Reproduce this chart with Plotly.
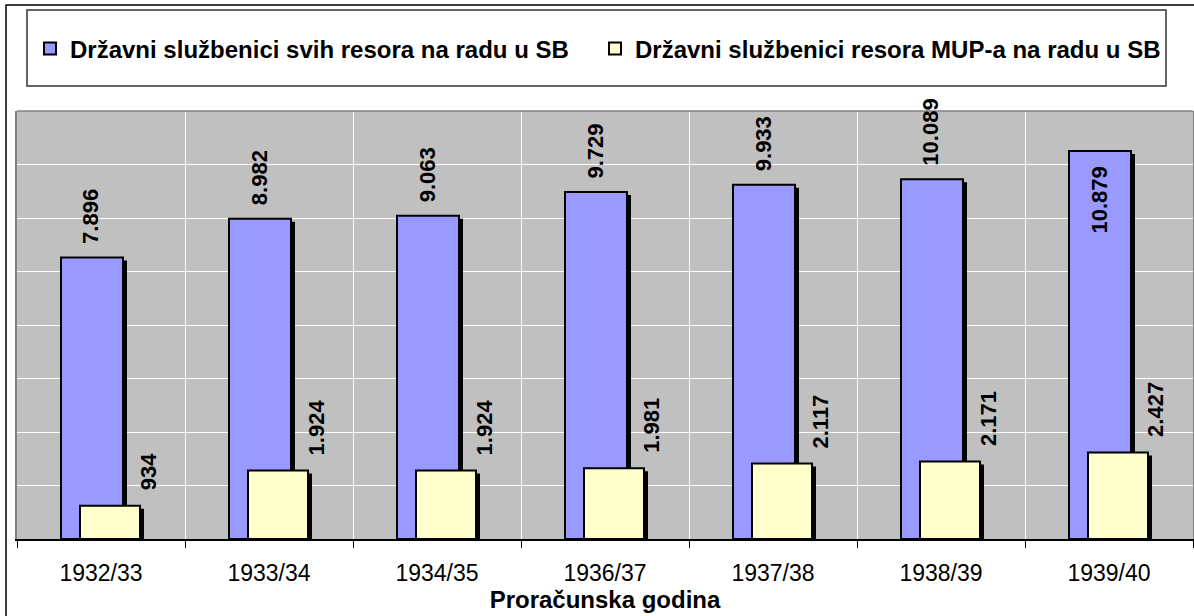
import plotly.graph_objects as go

CATEGORIES = ['1932/33', '1933/34', '1934/35', '1936/37', '1937/38', '1938/39', '1939/40']
ALL_RESORTS = [7896, 8982, 9063, 9729, 9933, 10089, 10879]
MUP_RESORT = [934, 1924, 1924, 1981, 2117, 2171, 2427]
SERIES_NAMES = ['Državni službenici svih resora na radu u SB',
                'Državni službenici resora MUP-a na radu u SB']
X_TITLE = 'Proračunska godina'

# layout in pixels
W, H = 1194, 616
PLOT_L, PLOT_R, PLOT_T, PLOT_B = 17, 1193, 111, 539
Y_MAX = 12000
CAT_PX = (PLOT_R - PLOT_L) / len(CATEGORIES)
UNIT_PER_PX = Y_MAX / (PLOT_B - PLOT_T)

BLUE = '#9999FF'
YELLOW = '#FFFFCC'
FONT = 'Arial, Liberation Sans, sans-serif'


def px_x(px):
    return (px - PLOT_L) / (PLOT_R - PLOT_L)


def px_y(py):
    return (PLOT_B - py) / (PLOT_B - PLOT_T)


def fmt(v):
    return f'{v:,}'.replace(',', '.')


def bar_pair(values, color, offset, width, name):
    # Excel-style drop shadow: a black copy a few pixels right and down
    shift = 4 / CAT_PX
    shadow = go.Bar(
        x=CATEGORIES,
        y=[v - 3 * UNIT_PER_PX for v in values],
        offset=offset + shift, width=width,
        marker=dict(color='black', line=dict(width=0)),
        showlegend=False, hoverinfo='skip',
    )
    bar = go.Bar(
        x=CATEGORIES, y=values, name=name,
        offset=offset, width=width,
        marker=dict(color=color, line=dict(color='black', width=2)),
    )
    return [shadow, bar]


fig = go.Figure()
for tr in bar_pair(ALL_RESORTS, BLUE, -40 / CAT_PX, 62 / CAT_PX, SERIES_NAMES[0]):
    fig.add_trace(tr)
for tr in bar_pair(MUP_RESORT, YELLOW, -21 / CAT_PX, 60 / CAT_PX, SERIES_NAMES[1]):
    fig.add_trace(tr)

label_font = dict(family=FONT, size=22, color='black')
annotations = []
for cat, v in zip(CATEGORIES, ALL_RESORTS):
    inside = v / Y_MAX > 0.88
    annotations.append(dict(
        x=cat, y=v, text=f'<b>{fmt(v)}</b>', textangle=-90, showarrow=False,
        xshift=-10, yshift=-14 if inside else 11,
        yanchor='top' if inside else 'bottom', font=label_font,
    ))
for cat, v in zip(CATEGORIES, MUP_RESORT):
    annotations.append(dict(
        x=cat, y=v, text=f'<b>{fmt(v)}</b>', textangle=-90, showarrow=False,
        xshift=47, yshift=13, yanchor='bottom', font=label_font,
    ))

shapes = [
    # outer chart border
    dict(type='rect', xref='paper', yref='paper',
         x0=px_x(6), x1=px_x(1210), y0=px_y(630), y1=px_y(5),
         line=dict(color='black', width=1.5), fillcolor='rgba(0,0,0,0)'),
    # legend box
    dict(type='rect', xref='paper', yref='paper',
         x0=px_x(27), x1=px_x(1166), y0=px_y(86), y1=px_y(10),
         line=dict(color='#333333', width=1.5), fillcolor='rgba(0,0,0,0)'),
    # plot area top edge
    dict(type='line', xref='paper', yref='paper', x0=0, x1=1, y0=1, y1=1,
         line=dict(color='#808080', width=1.5)),
]

fig.update_layout(
    width=W, height=H,
    margin=dict(l=PLOT_L, r=W - PLOT_R, t=PLOT_T, b=H - PLOT_B, autoexpand=False),
    barmode='overlay',
    plot_bgcolor='#C0C0C0',
    paper_bgcolor='white',
    font=dict(family=FONT, color='black'),
    showlegend=True,
    legend=dict(
        orientation='h', x=px_x(30), xanchor='left', y=px_y(49), yanchor='middle',
        font=dict(family=FONT, size=24, color='black', weight='bold'),
        bgcolor='rgba(0,0,0,0)', borderwidth=0,
        entrywidth=520, entrywidthmode='pixels',
    ),
    xaxis=dict(
        type='category', tickson='boundaries', ticks='outside', ticklen=7,
        tickcolor='black', tickwidth=1, showline=True, linecolor='black', linewidth=1.5,
        showgrid=True, gridcolor='white', gridwidth=1,
        tickfont=dict(family=FONT, size=23, color='black'),
        ticklabelstandoff=13,
        title=dict(text=X_TITLE, standoff=0,
                   font=dict(family=FONT, size=24, color='black', weight='bold')),
        automargin=False, fixedrange=True,
    ),
    yaxis=dict(
        range=[0, Y_MAX], dtick=1500, showticklabels=False, ticks='',
        showgrid=True, gridcolor='white', gridwidth=1,
        showline=True, linecolor='#808080', linewidth=1.5, mirror=True,
        zeroline=False, automargin=False, fixedrange=True,
    ),
    annotations=annotations,
    shapes=shapes,
)

fig.write_html('out.html', config={'displayModeBar': False},
               post_script="document.body.style.margin = '0';")
